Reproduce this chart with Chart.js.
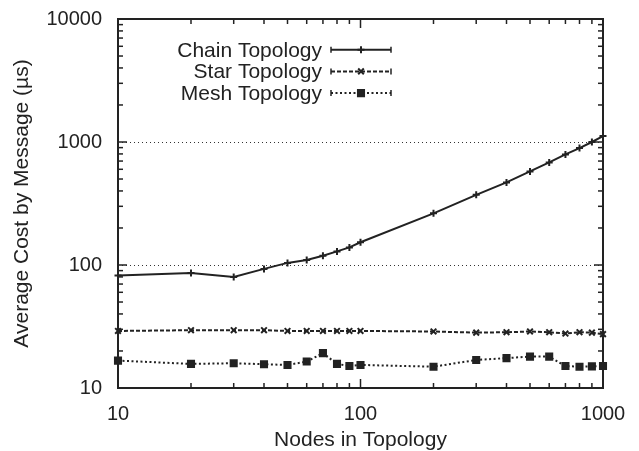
<!DOCTYPE html>
<html>
<head>
<meta charset="utf-8">
<script src="https://cdn.jsdelivr.net/npm/chart.js@4"></script>
<style>
  html, body { margin: 0; padding: 0; background: #fff; }
  #wrap { width: 639px; height: 451px; position: relative; }
</style>
</head>
<body>
<div id="wrap"><canvas id="c" role="img" aria-label="Average cost by message vs nodes in topology"></canvas></div>
<script>
const nodes = [10, 20, 30, 40, 50, 60, 70, 80, 90, 100, 200, 300, 400, 500, 600, 700, 800, 900, 1000]
const chain = [82, 86, 80, 93, 104, 110, 119, 129, 139, 153, 263, 372, 469, 576, 682, 793, 892, 1000, 1117]
const star = [29.1, 29.5, 29.5, 29.5, 29.1, 29.1, 29.1, 29.1, 29.1, 29.1, 28.8, 28.2, 28.4, 28.8, 28.4, 27.7, 28.4, 28.2, 27.4]
const mesh = [16.7, 15.7, 15.9, 15.6, 15.4, 16.4, 19.2, 15.7, 15.1, 15.4, 14.9, 16.9, 17.5, 18.0, 18.0, 15.1, 14.9, 15.0, 15.1]

const seriesNames = ['Chain Topology', 'Star Topology', 'Mesh Topology']
const xTicks = [10, 100, 1000]
const xTickLabels = ['10', '100', '1000']
const yTicks = [10, 100, 1000, 10000]
const yTickLabels = ['10', '100', '1000', '10000']
const yGrid = [100, 1000]

const INK = '#222'
const FONT = '"Liberation Sans", Arial, Helvetica, sans-serif'

const pts = ys => nodes.map((x, i) => ({ x, y: ys[i] }))

const styles = [
  { dash: [], pointStyle: 'cross', radius: 3.5 },
  { dash: [4, 2], pointStyle: 'crossRot', radius: 4 },
  { dash: [2, 2.5], pointStyle: 'rect', radius: 4.3 },
]

// minor tick values for a log axis between decades
function minors(lo, hi) {
  const out = []
  for (let d = lo; d < hi; d *= 10) for (let k = 2; k <= 9; k++) out.push(d * k)
  return out
}

const keyRow = (a, i) => a.top + 37.7 + i * 21.7

const framePlugin = {
  id: 'frame',
  beforeDatasetsDraw(chart) {
    const { ctx, chartArea: a, scales: { y } } = chart
    ctx.save()
    ctx.strokeStyle = '#333'
    ctx.lineWidth = 1
    ctx.setLineDash([1, 3])
    yGrid.forEach(v => {
      const py = Math.round(y.getPixelForValue(v)) + 0.5
      ctx.beginPath(); ctx.moveTo(a.left, py); ctx.lineTo(a.right, py); ctx.stroke()
    })
    ctx.restore()
  },
  afterDatasetsDraw(chart) {
    const { ctx, chartArea: a, scales: { x, y } } = chart
    ctx.save()
    ctx.strokeStyle = INK
    ctx.lineWidth = 1.5
    ctx.setLineDash([])
    const tick = (x1, y1, x2, y2) => { ctx.beginPath(); ctx.moveTo(x1, y1); ctx.lineTo(x2, y2); ctx.stroke() }
    const MAJ = 9, MIN = 5
    xTicks.forEach(v => { const p = x.getPixelForValue(v); tick(p, a.bottom, p, a.bottom - MAJ); tick(p, a.top, p, a.top + MAJ) })
    minors(10, 1000).forEach(v => { const p = x.getPixelForValue(v); tick(p, a.bottom, p, a.bottom - MIN); tick(p, a.top, p, a.top + MIN) })
    yTicks.forEach(v => { const p = y.getPixelForValue(v); tick(a.left, p, a.left + MAJ, p); tick(a.right, p, a.right - MAJ, p) })
    minors(10, 10000).forEach(v => { const p = y.getPixelForValue(v); tick(a.left, p, a.left + MIN, p); tick(a.right, p, a.right - MIN, p) })
    ctx.lineWidth = 2
    ctx.strokeRect(a.left, a.top, a.right - a.left, a.bottom - a.top)

    // key
    ctx.font = '21px ' + FONT
    ctx.fillStyle = INK
    ctx.textAlign = 'right'
    ctx.textBaseline = 'alphabetic'
    const textRight = a.left + 204
    const s0 = a.left + 213, s1 = a.left + 273
    chart.data.datasets.forEach((ds, i) => {
      const base = keyRow(a, i)
      const ly = base - 7
      ctx.fillText(ds.label, textRight, base)
      ctx.strokeStyle = INK
      ctx.lineWidth = 2
      ctx.setLineDash(styles[i].dash)
      tick(s0, ly, s1, ly)
      ctx.setLineDash([])
      ctx.lineWidth = 1.5
      tick(s0, ly - 3, s0, ly + 3)
      tick(s1, ly - 3, s1, ly + 3)
    })
    ctx.restore()
  },
  afterDraw(chart) {
    const { ctx, chartArea: a } = chart
    chart.data.datasets.forEach((ds, i) => {
      const ly = keyRow(a, i) - 7
      ctx.save()
      ctx.strokeStyle = INK; ctx.fillStyle = INK; ctx.lineWidth = 2
      Chart.helpers.drawPoint(ctx, { pointStyle: styles[i].pointStyle, radius: styles[i].radius, borderWidth: 2 }, a.left + 243, ly)
      ctx.restore()
    })
  }
}

new Chart(document.getElementById('c'), {
  type: 'line',
  data: {
    datasets: [chain, star, mesh].map((ys, i) => ({
      label: seriesNames[i],
      data: pts(ys),
      borderColor: INK,
      backgroundColor: INK,
      borderWidth: 2,
      borderDash: styles[i].dash,
      pointStyle: styles[i].pointStyle,
      pointRadius: styles[i].radius,
      pointBorderWidth: 2,
      pointBorderColor: INK,
      pointBackgroundColor: INK,
      tension: 0,
      clip: false,
    })),
  },
  options: {
    responsive: true,
    maintainAspectRatio: false,
    animation: false,
    layout: { padding: { top: 19, right: 36, left: 0, bottom: 0 } },
    plugins: { legend: { display: false }, tooltip: { enabled: false } },
    scales: {
      x: {
        type: 'logarithmic',
        min: 10,
        max: 1000,
        afterBuildTicks: s => { s.ticks = xTicks.map(v => ({ value: v })) },
        afterFit: s => { s.height = 63; s.paddingLeft = 0; s.paddingRight = 0 },
        ticks: {
          color: INK,
          font: { family: FONT, size: 20 },
          padding: 6,
          maxRotation: 0,
          callback: v => xTickLabels[xTicks.indexOf(v)],
        },
        grid: { display: false },
        border: { display: false },
        title: { display: true, text: 'Nodes in Topology', color: INK, font: { family: FONT, size: 21, lineHeight: 1 }, padding: { top: 0, bottom: 0 } },
      },
      y: {
        type: 'logarithmic',
        min: 10,
        max: 10000,
        afterBuildTicks: s => { s.ticks = yTicks.map(v => ({ value: v })) },
        afterFit: s => { s.width = 118; s.paddingTop = 0; s.paddingBottom = 0 },
        ticks: {
          color: INK,
          font: { family: FONT, size: 20 },
          padding: 8,
          callback: v => yTickLabels[yTicks.indexOf(v)],
        },
        grid: { display: false },
        border: { display: false },
        title: { display: true, text: 'Average Cost by Message (µs)', color: INK, font: { family: FONT, size: 21, lineHeight: 1 }, padding: { top: 11.5, bottom: 0 } },
      },
    },
  },
  plugins: [framePlugin],
})
</script>
</body>
</html>
